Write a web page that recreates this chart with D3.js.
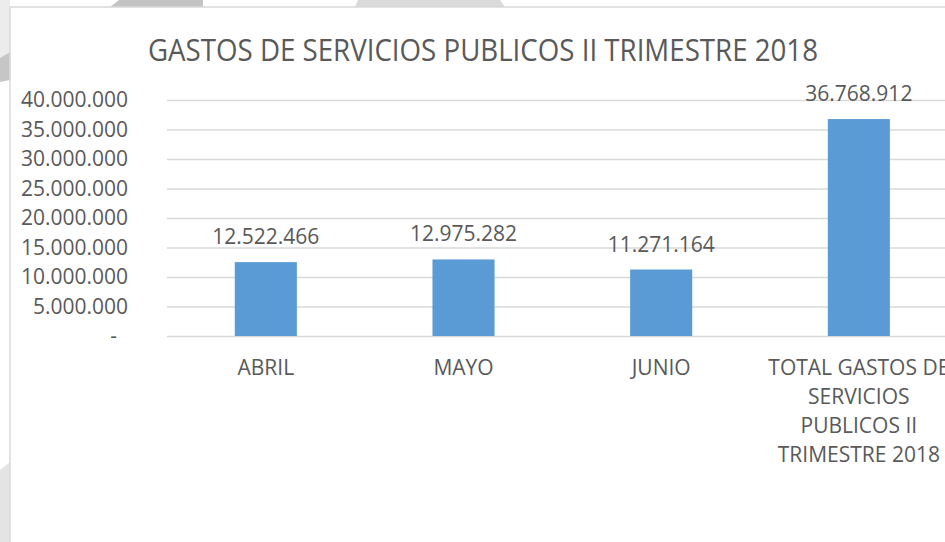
<!DOCTYPE html>
<html>
<head>
<meta charset="utf-8">
<script src="https://cdn.jsdelivr.net/npm/d3@7"></script>
<style>
  body { margin: 0; background: #fff; }
  text { font-family: "Open Sans", "Noto Sans", sans-serif; fill: #595959; }
</style>
</head>
<body>
<div id="chart"></div>
<script>
// datos del grafico
var categorias = ["ABRIL", "MAYO", "JUNIO", "TOTAL GASTOS DE SERVICIOS PUBLICOS II TRIMESTRE 2018"];
var etiquetasCategoria = [["ABRIL"], ["MAYO"], ["JUNIO"], ["TOTAL GASTOS DE", "SERVICIOS", "PUBLICOS II", "TRIMESTRE 2018"]];
var valores = [12522466, 12975282, 11271164, 36768912];
var etiquetasValor = ["12.522.466", "12.975.282", "11.271.164", "36.768.912"];
var ticksY = [0, 5000000, 10000000, 15000000, 20000000, 25000000, 30000000, 35000000, 40000000];
var etiquetasY = ["-", "5.000.000", "10.000.000", "15.000.000", "20.000.000", "25.000.000", "30.000.000", "35.000.000", "40.000.000"];
var titulo = "GASTOS DE SERVICIOS PUBLICOS II TRIMESTRE 2018";

var width = 945,
    height = 542;

var svg = d3.select("#chart").append("svg")
    .attr("width", width)
    .attr("height", height);

svg.append("rect").attr("width", width).attr("height", height).attr("fill", "#fff");

// fondo (marca de agua de la pagina)
var fondo = svg.append("g");
fondo.append("polygon").attr("points", "110,7 119,0 203,0 203,7").attr("fill", "#c3c3c3");
fondo.append("polygon").attr("points", "355,7 358,0 500,0 505,7").attr("fill", "#dadada");
fondo.append("polygon").attr("points", "0,0 10,0 10,52 0,58").attr("fill", "#ececec");
fondo.append("polygon").attr("points", "0,58 10,52 10,80 0,82").attr("fill", "#c6c6c6");
fondo.append("polygon").attr("points", "0,470 10,462 10,542 0,542").attr("fill", "#e4e4e4");

// borde del area del grafico
svg.append("path")
    .attr("d", "M10,542V7H945")
    .attr("fill", "none")
    .attr("stroke", "#d9d9d9")
    .attr("stroke-width", 1.5);

var x0 = 167, plotTop = 100, plotBottom = 336;
var step = 197.67;

var xScale = d3.scaleBand()
    .domain(categorias)
    .range([x0, x0 + step * categorias.length])
    .paddingInner(0.686)
    .paddingOuter(0.343);

var yScale = d3.scaleLinear()
    .domain([0, 40000000])
    .range([plotBottom, plotTop]);

// lineas de cuadricula
var grid = svg.append("g")
    .attr("transform", "translate(" + x0 + ",0)")
    .call(d3.axisLeft(yScale).tickValues(ticksY).tickSize(-(width - x0)).tickFormat(""));
grid.select(".domain").remove();
grid.selectAll("line").attr("stroke", "#d9d9d9").attr("stroke-width", 1.5);

// eje y
var ejeY = svg.append("g")
    .attr("transform", "translate(128,0)")
    .call(d3.axisLeft(yScale).tickValues(ticksY).tickSize(0).tickPadding(0)
        .tickFormat(function (d, i) { return etiquetasY[i]; }));
ejeY.select(".domain").remove();
ejeY.selectAll("text")
    .attr("font-size", 21)
    .attr("fill", "#595959")
    .style("font-family", "'Open Sans', sans-serif")
    .attr("dx", function (d) { return d === 0 ? -11 : 0; });

// barras
svg.append("g").selectAll("rect")
    .data(valores)
    .join("rect")
    .attr("x", function (d, i) { return xScale(categorias[i]); })
    .attr("y", function (d) { return yScale(d); })
    .attr("width", xScale.bandwidth())
    .attr("height", function (d) { return yScale(0) - yScale(d); })
    .attr("fill", "#5b9bd5");

// etiquetas de valor
svg.append("g").selectAll("text")
    .data(valores)
    .join("text")
    .attr("x", function (d, i) { return xScale(categorias[i]) + xScale.bandwidth() / 2; })
    .attr("y", function (d) { return yScale(d) - 18; })
    .attr("text-anchor", "middle")
    .attr("font-size", 21)
    .text(function (d, i) { return etiquetasValor[i]; });

// etiquetas de categoria
var cat = svg.append("g").selectAll("text")
    .data(categorias)
    .join("text")
    .attr("x", function (d) { return xScale(d) + xScale.bandwidth() / 2; })
    .attr("y", 375)
    .attr("text-anchor", "middle")
    .attr("font-size", 21);
cat.selectAll("tspan")
    .data(function (d, i) { return etiquetasCategoria[i]; })
    .join("tspan")
    .attr("x", function () { return this.parentNode.getAttribute("x"); })
    .attr("dy", function (d, j) { return j === 0 ? 0 : 29; })
    .text(function (d) { return d; });

// titulo
svg.append("text")
    .attr("x", 483)
    .attr("y", 61)
    .attr("text-anchor", "middle")
    .attr("font-size", 31)
    .attr("textLength", 670)
    .attr("lengthAdjust", "spacingAndGlyphs")
    .text(titulo);
</script>
</body>
</html>
